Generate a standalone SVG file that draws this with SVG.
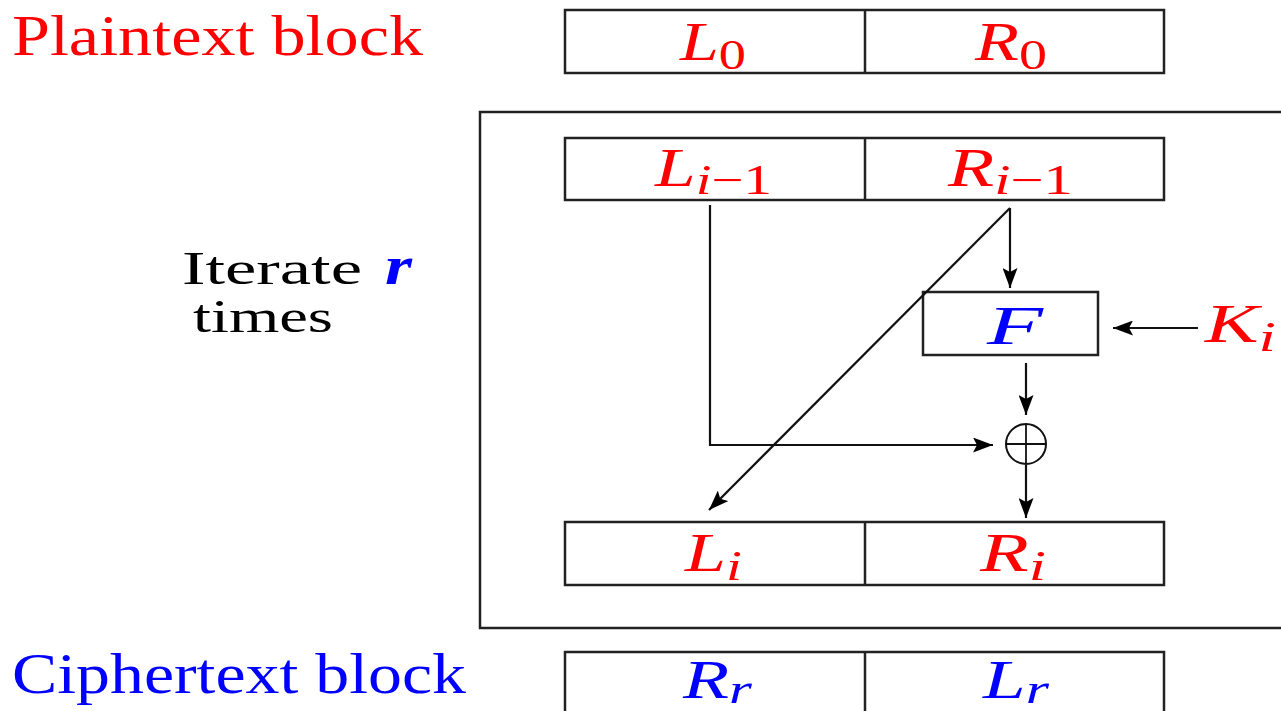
<svg xmlns="http://www.w3.org/2000/svg" width="1281" height="711" viewBox="0 0 1281 711">
<style>
.box{fill:none;stroke:#222;stroke-width:2.5}
.ln{fill:none;stroke:#111;stroke-width:2.2}
.t{font-family:"Liberation Serif","DejaVu Serif",serif}
.m{font-family:"Liberation Serif","DejaVu Serif",serif;font-style:italic;font-size:54px}
.s{font-size:42px}
.u{font-style:normal}
.red{fill:#ff0000}
.blue{fill:#0000ff}
</style>
<defs>
<marker id="ah" viewBox="0 0 20 15" refX="20" refY="7.5" markerWidth="20" markerHeight="15" markerUnits="userSpaceOnUse" orient="auto">
<path d="M0,0 L20,7.5 L0,15 L4,7.5 z" fill="#000"/>
</marker>
</defs>
<rect width="1281" height="711" fill="#fff"/>

<g id="frame"><rect x="480" y="112" width="900" height="516" class="box"/></g>

<g id="plain-label"><text class="t red" x="12" y="55" font-size="58" textLength="411" lengthAdjust="spacingAndGlyphs">Plaintext block</text></g>
<g id="iterate-label">
<text class="t" x="182" y="284" font-size="47" fill="#000" textLength="180" lengthAdjust="spacingAndGlyphs">Iterate</text>
<text class="m blue" x="385" y="284" font-weight="bold" textLength="27" lengthAdjust="spacingAndGlyphs">r</text>
<text class="t" x="193" y="332" font-size="47" fill="#000" textLength="140" lengthAdjust="spacingAndGlyphs">times</text>
</g>
<g id="cipher-label"><text class="t blue" x="12" y="693" font-size="58" textLength="454" lengthAdjust="spacingAndGlyphs">Ciphertext block</text></g>

<g id="plain-block">
<rect x="565" y="10" width="599" height="63" class="box"/>
<line x1="865" y1="10" x2="865" y2="73" class="box"/>
<text class="m red" x="680" y="60" textLength="66" lengthAdjust="spacingAndGlyphs">L<tspan class="s u" dy="9">0</tspan></text>
<text class="m red" x="975" y="60" textLength="72" lengthAdjust="spacingAndGlyphs">R<tspan class="s u" dy="9">0</tspan></text>
</g>

<g id="in-block">
<rect x="565" y="138" width="599" height="62" class="box"/>
<line x1="865" y1="138" x2="865" y2="200" class="box"/>
<text class="m red" x="655" y="186" textLength="117" lengthAdjust="spacingAndGlyphs">L<tspan class="s" dy="8">i</tspan><tspan class="s u">−1</tspan></text>
<text class="m red" x="948" y="186" textLength="125" lengthAdjust="spacingAndGlyphs">R<tspan class="s" dy="8">i</tspan><tspan class="s u">−1</tspan></text>
</g>

<g id="f-box">
<rect x="923" y="292" width="175" height="63" class="box"/>
<text class="m blue" x="987" y="344" textLength="56" lengthAdjust="spacingAndGlyphs">F</text>
</g>

<g id="key"><text class="m red" x="1205" y="342" textLength="71" lengthAdjust="spacingAndGlyphs">K<tspan class="s" dy="9">i</tspan></text></g>

<g id="xor">
<circle cx="1026" cy="444" r="20" fill="none" stroke="#111" stroke-width="2"/>
<line x1="1006" y1="444" x2="1046" y2="444" stroke="#111" stroke-width="1.8"/>
<line x1="1026" y1="424" x2="1026" y2="464" stroke="#111" stroke-width="1.8"/>
</g>

<g id="out-block">
<rect x="565" y="522" width="599" height="63" class="box"/>
<line x1="865" y1="522" x2="865" y2="585" class="box"/>
<text class="m red" x="685" y="571" textLength="57" lengthAdjust="spacingAndGlyphs">L<tspan class="s" dy="9">i</tspan></text>
<text class="m red" x="980" y="571" textLength="66" lengthAdjust="spacingAndGlyphs">R<tspan class="s" dy="9">i</tspan></text>
</g>

<g id="cipher-block">
<rect x="565" y="652" width="599" height="70" class="box"/>
<line x1="865" y1="652" x2="865" y2="711" class="box"/>
<text class="m blue" x="683" y="698" textLength="69" lengthAdjust="spacingAndGlyphs">R<tspan class="s" dy="5">r</tspan></text>
<text class="m blue" x="983" y="698" textLength="66" lengthAdjust="spacingAndGlyphs">L<tspan class="s" dy="5">r</tspan></text>
</g>

<g id="connectors">
<path d="M710,205 V445 H993" class="ln" marker-end="url(#ah)"/>
<path d="M1010,208 L709,510" class="ln" stroke-width="2.8" marker-end="url(#ah)"/>
<path d="M1010,208 V288" class="ln" marker-end="url(#ah)"/>
<path d="M1198,328 H1113" class="ln" marker-end="url(#ah)"/>
<path d="M1026,363 V415" class="ln" marker-end="url(#ah)"/>
<path d="M1026,465 V518" class="ln" marker-end="url(#ah)"/>
</g>
</svg>
